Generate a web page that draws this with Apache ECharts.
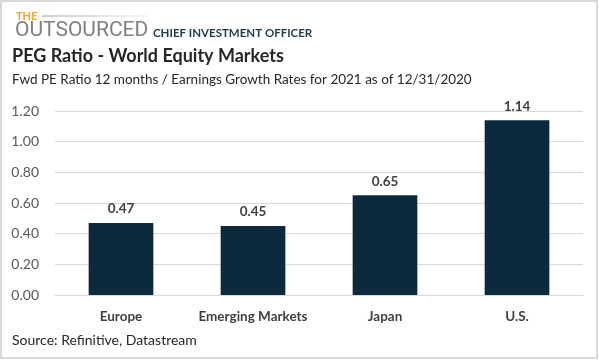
<!DOCTYPE html>
<html>
<head>
<meta charset="utf-8">
<script src="https://cdn.jsdelivr.net/npm/echarts@6/dist/echarts.min.js"></script>
<style>
html,body{margin:0;padding:0;background:#fff;}
#c{width:599px;height:360px;}
</style>
</head>
<body>
<div id="c"></div>
<script>
const categories = ['Europe', 'Emerging Markets', 'Japan', 'U.S.'];
const pegValues = [0.47, 0.45, 0.65, 1.14];
const yTicks = { min: 0, max: 1.2, interval: 0.2 };
const titleText = 'PEG Ratio - World Equity Markets';
const subtitleText = 'Fwd PE Ratio 12 months / Earnings Growth Rates for 2021 as of 12/31/2020';
const sourceText = 'Source: Refinitive, Datastream';

const FONT = 'Lato, "Open Sans", sans-serif';
const chart = echarts.init(document.getElementById('c'), null, {renderer: 'canvas'});
chart.setOption({
  animation: false,
  backgroundColor: '#ffffff',
  grid: { left: 55, right: 16, top: 111, bottom: 65, containLabel: false },
  xAxis: {
    type: 'category',
    data: categories,
    axisLine: { show: true, lineStyle: { color: '#d9d9d9', width: 1 } },
    axisTick: { show: false },
    axisLabel: { interval: 0, color: '#404040', fontFamily: FONT, fontWeight: 'bold', fontSize: 13.5, margin: 15 }
  },
  yAxis: {
    type: 'value',
    min: yTicks.min, max: yTicks.max, interval: yTicks.interval,
    axisLine: { show: false },
    axisTick: { show: false },
    splitLine: { lineStyle: { color: '#d9d9d9', width: 1 } },
    axisLabel: { color: '#595959', fontFamily: FONT, fontSize: 14, margin: 16,
      formatter: v => v.toFixed(2) }
  },
  series: [{
    type: 'bar',
    data: pegValues,
    barWidth: '49%',
    itemStyle: { color: '#0c2a3d' },
    label: { show: true, position: 'top', distance: 7, color: '#404040',
      fontFamily: FONT, fontWeight: 'bold', fontSize: 13.5,
      formatter: p => p.value.toFixed(2) }
  }],
  graphic: [
    { type: 'rect', shape: { x: 1, y: 1, width: 596, height: 357 },
      style: { fill: 'none', stroke: '#d9d9d9', lineWidth: 2 }, silent: true },
    { type: 'text', left: 16, top: 11, style: { text: 'THE', fill: '#f5a623', font: 'bold 11px ' + FONT } },
    { type: 'line', shape: { x1: 42, y1: 16, x2: 148, y2: 16 },
      style: { stroke: new echarts.graphic.LinearGradient(0, 0, 1, 0, [
        { offset: 0, color: '#9a9a9a' }, { offset: 1, color: '#eeeeee' }]), lineWidth: 1 } },
    { type: 'text', left: 15, top: 20, style: { text: 'OUTSOURCED', fill: '#808080', font: '400 21px Roboto, sans-serif' } },
    { type: 'text', left: 153, top: 27, style: { text: 'CHIEF INVESTMENT OFFICER', fill: '#1e3a4c', font: 'bold 11.5px ' + FONT } },
    { type: 'text', left: 12, top: 47, style: { text: titleText, fill: '#262626', font: 'bold 18px ' + FONT } },
    { type: 'text', left: 12, top: 73, style: { text: subtitleText, fill: '#262626', font: '13.5px ' + FONT } },
    { type: 'text', left: 12, top: 333, style: { text: sourceText, fill: '#262626', font: '14px ' + FONT } }
  ]
});
</script>
</body>
</html>
